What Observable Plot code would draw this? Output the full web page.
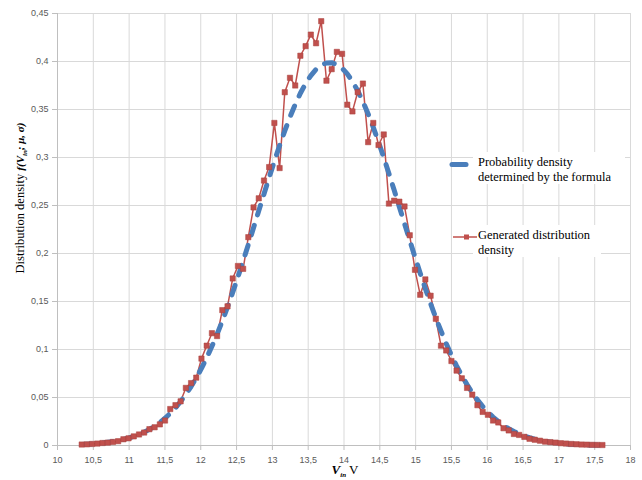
<!DOCTYPE html>
<html><head><meta charset="utf-8">
<script src="https://cdn.jsdelivr.net/npm/d3@7"></script>
<script src="https://cdn.jsdelivr.net/npm/@observablehq/plot@0.6"></script>
<style>body{margin:0;background:#fff}</style>
</head><body><div id="chart"></div>
<script>
const voltage = [10.338,10.411,10.483,10.556,10.629,10.702,10.774,10.847,10.920,10.992,
11.065,11.138,11.210,11.283,11.356,11.429,11.501,11.574,11.647,11.719,
11.792,11.865,11.937,12.010,12.083,12.156,12.228,12.301,12.374,12.446,
12.519,12.592,12.664,12.737,12.810,12.883,12.955,13.028,13.101,13.173,
13.246,13.319,13.391,13.464,13.537,13.610,13.682,13.755,13.828,13.900,
13.973,14.046,14.118,14.191,14.264,14.337,14.409,14.482,14.555,14.627,
14.700,14.773,14.845,14.918,14.991,15.064,15.136,15.209,15.282,15.354,
15.427,15.500,15.572,15.645,15.718,15.791,15.863,15.936,16.009,16.081,
16.154,16.227,16.299,16.372,16.445,16.518,16.590,16.663,16.736,16.808,
16.881,16.954,17.026,17.099,17.172,17.245,17.317,17.390,17.463,17.535,17.608];

const generated = [0.001,0.0012,0.0016,0.002,0.0026,0.003,0.0037,0.0045,0.0065,0.0075,
0.0095,0.0115,0.0135,0.017,0.019,0.022,0.026,0.038,0.042,0.046,
0.060,0.065,0.0707,0.0905,0.104,0.117,0.114,0.141,0.145,0.174,
0.187,0.184,0.217,0.248,0.2575,0.276,0.290,0.336,0.289,0.368,
0.383,0.375,0.406,0.416,0.428,0.419,0.442,0.380,0.392,0.410,
0.408,0.355,0.348,0.368,0.377,0.316,0.336,0.313,0.324,0.252,
0.255,0.254,0.249,0.219,0.183,0.157,0.173,0.156,0.132,0.104,
0.099,0.088,0.078,0.070,0.060,0.053,0.042,0.035,0.032,0.026,
0.024,0.018,0.0157,0.012,0.011,0.009,0.007,0.006,0.005,0.004,
0.0035,0.003,0.0024,0.002,0.0016,0.0013,0.001,0.0009,0.0007,0.0006,0.0005];

const formula = [0.0010,0.0013,0.0016,0.0021,0.0026,0.0033,0.0041,0.0051,0.0063,0.0077,
0.0095,0.0115,0.0139,0.0168,0.0201,0.0240,0.0284,0.0335,0.0393,0.0458,
0.0531,0.0614,0.0704,0.0804,0.0914,0.1033,0.1159,0.1297,0.1443,0.1595,
0.1756,0.1923,0.2093,0.2268,0.2444,0.2620,0.2792,0.2961,0.3125,0.3277,
0.3422,0.3553,0.3669,0.3770,0.3854,0.3918,0.3962,0.3985,0.3988,0.3969,
0.3930,0.3871,0.3793,0.3696,0.3582,0.3454,0.3314,0.3162,0.3000,0.2834,
0.2661,0.2485,0.2311,0.2136,0.1963,0.1795,0.1634,0.1478,0.1330,0.1193,
0.1062,0.0940,0.0830,0.0727,0.0634,0.0550,0.0475,0.0408,0.0348,0.0296,
0.0250,0.0210,0.0176,0.0146,0.0121,0.0099,0.0081,0.0066,0.0054,0.0043,
0.0035,0.0028,0.0022,0.0017,0.0014,0.0011,0.0008,0.0006,0.0005,0.0004,0.0003];

const xTicks = [10,10.5,11,11.5,12,12.5,13,13.5,14,14.5,15,15.5,16,16.5,17,17.5,18];
const yTicks = [0,0.05,0.1,0.15,0.2,0.25,0.3,0.35,0.4,0.45];
const legendLabels = ["Probability density", "determined by the formula", "Generated distribution", "density"];

const rows = voltage.map((v, i) => ({v, gen: generated[i], pdf: formula[i]}));
const fmt = d => String(d).replace(".", ",");
const RED = "#c0504d", BLUE = "#4a7ebb";

const svg = Plot.plot({
  width: 642, height: 480,
  marginLeft: 57, marginRight: 12, marginTop: 13, marginBottom: 35,
  style: {fontFamily: "Liberation Sans, Arial, sans-serif", fontSize: "9px", color: "#595959", background: "#fff"},
  x: {domain: [10, 18]},
  y: {domain: [0, 0.45]},
  marks: [
    Plot.gridX(xTicks, {stroke: "#d9d9d9", strokeOpacity: 1}),
    Plot.gridY(yTicks, {stroke: "#d9d9d9", strokeOpacity: 1}),
    Plot.axisX({ticks: xTicks, tickFormat: fmt, tickSize: 5, tickPadding: 6, stroke: "#bfbfbf", fill: "#595959", label: null}),
    Plot.axisY({ticks: yTicks, tickFormat: fmt, tickSize: 5, tickPadding: 4, stroke: "#bfbfbf", fill: "#595959", label: null}),
    Plot.ruleX([10], {stroke: "#bfbfbf"}),
    Plot.ruleY([0], {stroke: "#bfbfbf"}),
    Plot.lineY(rows, {x: "v", y: "gen", stroke: RED, strokeWidth: 1.5}),
    Plot.lineY(rows, {x: "v", y: "pdf", stroke: BLUE, strokeWidth: 5, strokeDasharray: "10,11", strokeLinecap: "round"}),
    Plot.dot(rows, {x: "v", y: "gen", symbol: "square", r: 3, fill: RED, stroke: "#a8403d", strokeWidth: 0.5})
  ]
});
document.getElementById("chart").appendChild(svg);

const s = d3.select(svg);
const serif = "Liberation Serif, Times New Roman, serif";

// Y axis label
const yl = s.append("text")
  .attr("transform", "translate(24,198) rotate(-90)")
  .attr("text-anchor", "middle")
  .attr("font-family", serif).attr("font-size", 12.5).attr("fill", "#000");
yl.append("tspan").text("Distribution density ");
const yf = yl.append("tspan").attr("font-style", "italic").attr("font-weight", "bold").attr("font-size", 11);
yf.append("tspan").text("f(");
yf.append("tspan").text("V");
yf.append("tspan").attr("font-size", 7).attr("dy", 3).text("in");
yf.append("tspan").attr("dy", -3).text("; μ, σ)");

// X axis label
const xl = s.append("text")
  .attr("x", 345).attr("y", 474)
  .attr("text-anchor", "middle")
  .attr("font-family", serif).attr("font-size", 13).attr("fill", "#000");
xl.append("tspan").attr("font-style", "italic").attr("font-weight", "bold").text("V");
xl.append("tspan").attr("font-style", "italic").attr("font-weight", "bold").attr("font-size", 7).attr("dy", 3).text("in");
xl.append("tspan").attr("dy", -3).text(" V");

// Legend
const lg = s.append("g").attr("font-family", serif).attr("font-size", 12.5).attr("fill", "#000").attr("text-anchor", "start");
lg.append("rect").attr("x", 473).attr("y", 152).attr("width", 152).attr("height", 32).attr("fill", "#fff");
lg.append("rect").attr("x", 473).attr("y", 225).attr("width", 128).attr("height", 32).attr("fill", "#fff");
lg.append("line").attr("x1", 452).attr("x2", 466).attr("y1", 164.5).attr("y2", 164.5)
  .attr("stroke", BLUE).attr("stroke-width", 5).attr("stroke-linecap", "round");
lg.append("text").attr("x", 478).attr("y", 166).text(legendLabels[0]);
lg.append("text").attr("x", 478).attr("y", 180.5).text(legendLabels[1]);
lg.append("line").attr("x1", 453).attr("x2", 477).attr("y1", 237).attr("y2", 237)
  .attr("stroke", RED).attr("stroke-width", 1.5);
lg.append("rect").attr("x", 464).attr("y", 234.5).attr("width", 5).attr("height", 5).attr("fill", RED);
lg.append("text").attr("x", 478).attr("y", 239).text(legendLabels[2]);
lg.append("text").attr("x", 478).attr("y", 253.5).text(legendLabels[3]);
</script>
</body></html>
